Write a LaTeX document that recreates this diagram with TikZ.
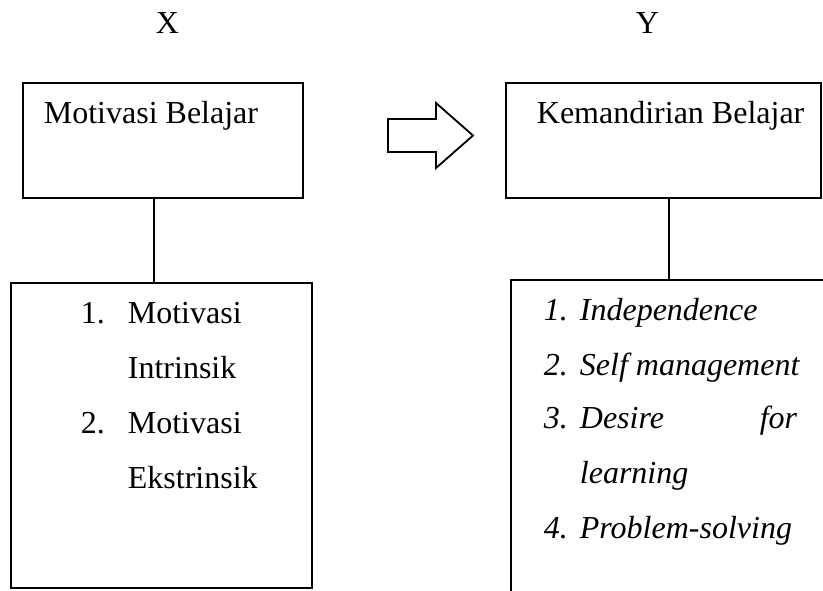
\documentclass[tikz,border=0pt]{standalone}
\usepackage{fontspec}
\setmainfont{Liberation Serif}
\usetikzlibrary{positioning}

\tikzset{
  box/.style={draw, line width=0.9pt, inner sep=0pt},
  item/.style={anchor=base west, inner sep=0pt, font=\fontsize{16}{19}\selectfont},
}

\begin{document}
\begin{tikzpicture}[x=0.5pt, y=-0.5pt, line width=0.9pt]
        \useasboundingbox (0,0) rectangle (823,590);
        % variables
        \node[item] (lx) at (155,33) {X};
        \node[item] (ly) at (635,33) {Y};
        % upper boxes
        \node[box, minimum width=140pt, minimum height=57.5pt] (boxX) at (163,140.5) {};
        \node[box, minimum width=157.5pt, minimum height=57.5pt] (boxY) at (663.5,140.5) {};
        \node[item] (tX) at (43,123) {Motivasi Belajar};
        \node[item] (tY) at (536,123) {Kemandirian Belajar};
        % block arrow
        \coordinate (arw) at (388,135.5);
        \draw[miter limit=10] (arw) ++(0,-16.5) -- ++(48,0) -- ++(0,-16) -- ++(37,32.5)
            -- ++(-37,32.5) -- ++(0,-16) -- ++(-48,0) -- cycle;
        % indicator boxes
        \node[box, minimum width=150.5pt, minimum height=152.5pt] (subX) at (161.5,435.5) {};
        \node[box, minimum width=170pt, minimum height=180pt] (subY) at (681,460) {};
        \draw ([xshift=-4.5pt]boxX.south) -- ([xshift=-4.5pt]boxX.south |- subX.north);
        \draw ([xshift=2.75pt]boxY.south) -- ([xshift=2.75pt]boxY.south |- subY.north);
        % indicators X
        \foreach \i/\n/\y in {1/1./323, 2/2./433}{
            \node[item] (nx\i) at (80,\y) {\n};
        }
        \foreach \i/\w/\y in {1/Motivasi/323, 2/Intrinsik/378, 3/Motivasi/433, 4/Ekstrinsik/488}{
            \node[item] (wx\i) at (127,\y) {\w};
        }
        % indicators Y
        \foreach \i/\y in {1/320, 2/375, 3/428, 4/538}{
            \node[item, font=\fontsize{16}{19}\selectfont\itshape] (ny\i) at (543,\y) {\i.};
        }
        \foreach \i/\w/\y in {1/Independence/320, 2/Self management/375, 3/Desire/428, 4/learning/483, 5/Problem-solving/538}{
            \node[item, font=\fontsize{16}{19}\selectfont\itshape] (wy\i) at (579,\y) {\w};
        }
        \node[item, anchor=base east, font=\fontsize{16}{19}\selectfont\itshape] (wyfor) at (798,428) {for};
    \end{tikzpicture}
\end{document}
